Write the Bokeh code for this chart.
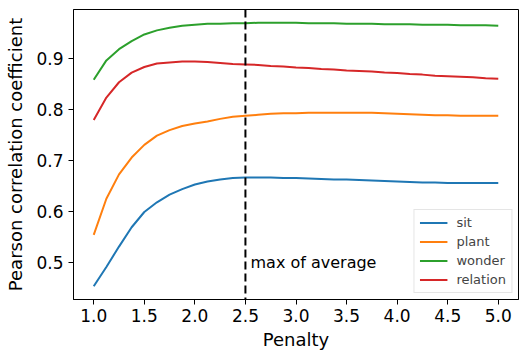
from bokeh.plotting import figure
from bokeh.models import Span, Label, Legend, LegendItem, FixedTicker, Range1d
from bokeh.embed import file_html
from bokeh.resources import INLINE

penalty = [1.0, 1.125, 1.25, 1.375, 1.5, 1.625, 1.75, 1.875, 2.0, 2.125, 2.25, 2.375, 2.5,
           2.625, 2.75, 2.875, 3.0, 3.125, 3.25, 3.375, 3.5, 3.625, 3.75, 3.875, 4.0,
           4.125, 4.25, 4.375, 4.5, 4.625, 4.75, 4.875, 5.0]

sit = [0.453, 0.491, 0.531, 0.569, 0.599, 0.618, 0.633, 0.644, 0.653, 0.659, 0.663, 0.666, 0.667,
       0.667, 0.667, 0.666, 0.666, 0.665, 0.664, 0.663, 0.663, 0.662, 0.661, 0.660, 0.659,
       0.658, 0.657, 0.657, 0.656, 0.656, 0.656, 0.656, 0.656]
plant = [0.554, 0.625, 0.673, 0.706, 0.731, 0.749, 0.760, 0.768, 0.773, 0.777, 0.782, 0.786, 0.788,
         0.790, 0.792, 0.793, 0.793, 0.794, 0.794, 0.794, 0.794, 0.794, 0.794, 0.793, 0.792,
         0.791, 0.790, 0.789, 0.789, 0.788, 0.788, 0.788, 0.788]
wonder = [0.859, 0.897, 0.919, 0.935, 0.948, 0.956, 0.961, 0.965, 0.967, 0.969, 0.969, 0.970, 0.970,
          0.971, 0.971, 0.971, 0.971, 0.970, 0.970, 0.970, 0.969, 0.969, 0.969, 0.968, 0.968,
          0.968, 0.967, 0.967, 0.967, 0.966, 0.966, 0.966, 0.965]
relation = [0.780, 0.824, 0.854, 0.873, 0.884, 0.891, 0.893, 0.895, 0.895, 0.894, 0.892, 0.890, 0.889,
            0.888, 0.886, 0.885, 0.883, 0.882, 0.880, 0.879, 0.877, 0.876, 0.875, 0.873, 0.872,
            0.870, 0.869, 0.867, 0.866, 0.865, 0.864, 0.862, 0.861]

series_names = ["sit", "plant", "wonder", "relation"]
series_values = [sit, plant, wonder, relation]
colors = ["#1f77b4", "#ff7f0e", "#2ca02c", "#d62728"]

x_ticks = [1.0, 1.5, 2.0, 2.5, 3.0, 3.5, 4.0, 4.5, 5.0]
y_ticks = [0.5, 0.6, 0.7, 0.8, 0.9]
max_avg_x = 2.5

p = figure(width=528, height=360, output_backend="svg", toolbar_location=None,
           x_range=Range1d(0.8, 5.2), y_range=Range1d(0.427, 0.997),
           min_border_left=73, min_border_right=10, min_border_top=9, min_border_bottom=61)
p.background_fill_color = "white"
p.border_fill_color = "white"
p.outline_line_color = "black"
p.outline_line_width = 1
p.grid.visible = False

font = "DejaVu Sans"
for ax in (p.xaxis, p.yaxis):
    ax.major_label_text_font = font
    ax.major_label_text_font_size = "17px"
    ax.major_label_text_color = "black"
    ax.axis_label_text_font = font
    ax.axis_label_text_font_size = "18px"
    ax.axis_label_text_font_style = "normal"
    ax.axis_label_text_color = "black"
    ax.major_tick_out = 5
    ax.major_tick_in = 0
    ax.minor_tick_out = 0
    ax.minor_tick_in = 0
    ax.axis_line_color = "black"
    ax.major_tick_line_color = "black"

p.xaxis.ticker = FixedTicker(ticks=x_ticks)
p.yaxis.ticker = FixedTicker(ticks=y_ticks)
p.xaxis.major_label_overrides = {t: f"{t:.1f}" for t in x_ticks}
p.yaxis.major_label_overrides = {t: f"{t:.1f}" for t in y_ticks}
p.xaxis.major_label_standoff = 4
p.xaxis.axis_label = "Penalty"
p.yaxis.axis_label = "Pearson correlation coefficient"
p.xaxis.axis_label_standoff = 4
p.yaxis.axis_label_standoff = 7

items = []
for name, vals, c in zip(series_names, series_values, colors):
    r = p.line(penalty, vals, line_color=c, line_width=2)
    items.append(LegendItem(label=name, renderers=[r]))

span = Span(location=max_avg_x, dimension="height", line_color="black",
            line_width=2, line_dash="8 4")
p.add_layout(span)

lbl = Label(x=2.55, y=0.5, text="max of average", text_font=font,
            text_font_size="16px", text_color="black", text_baseline="alphabetic")
p.add_layout(lbl)

legend = Legend(items=items, location="bottom_right")
legend.label_text_font = font
legend.label_text_font_size = "13px"
legend.glyph_width = 28
legend.glyph_height = 15
legend.label_height = 15
legend.label_standoff = 9
legend.spacing = 4
legend.padding = 5
legend.margin = 6
legend.border_line_color = "#cccccc"
legend.border_line_width = 1
legend.background_fill_alpha = 0.8
p.add_layout(legend)

open("out.html", "w").write(file_html(p, INLINE))
